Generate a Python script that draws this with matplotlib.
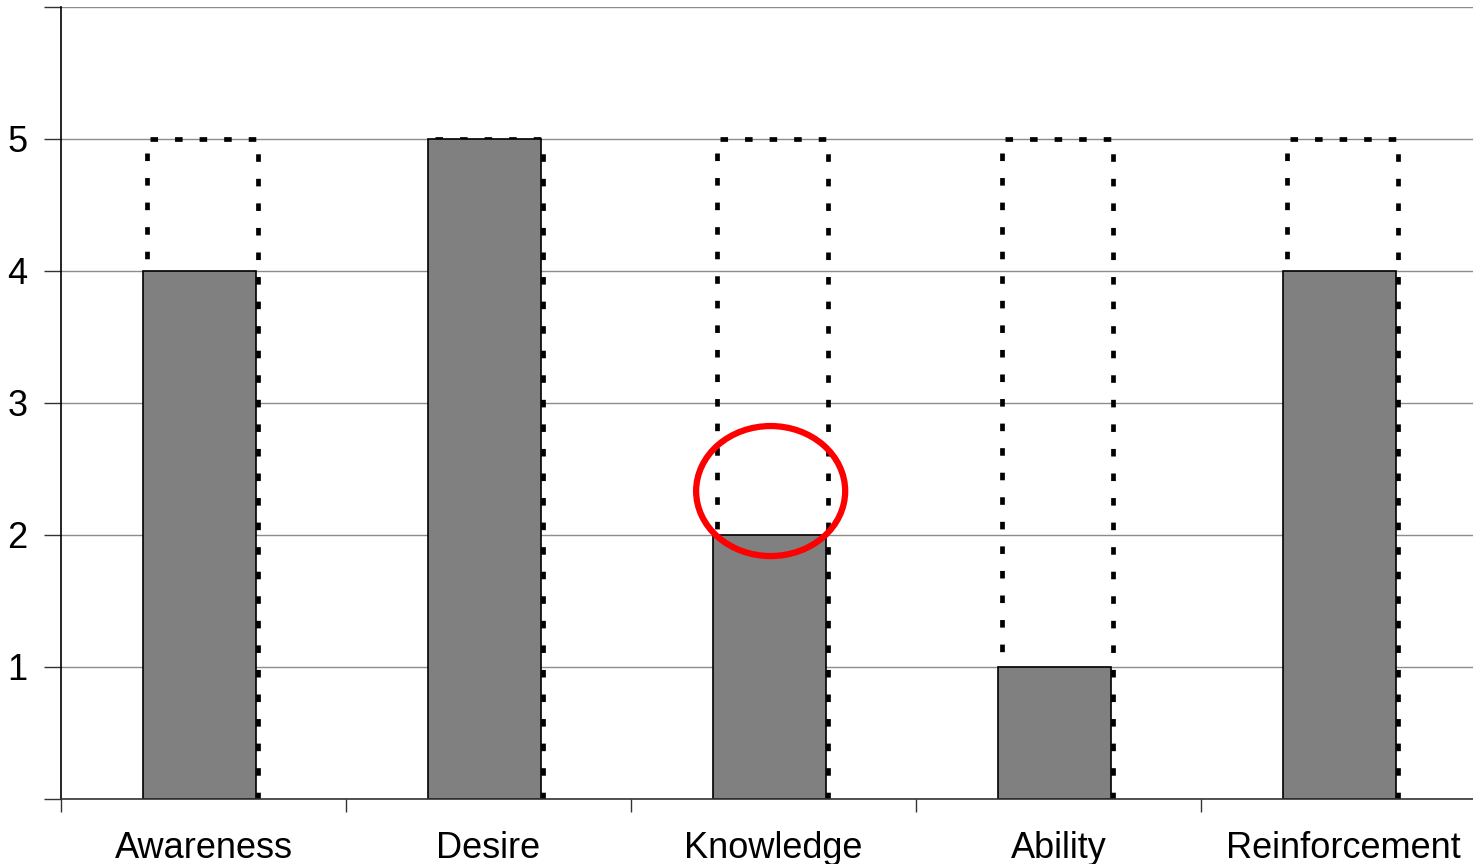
import matplotlib.pyplot as plt
import numpy as np
from matplotlib.patches import Ellipse

# Stage scores and the target level for each stage
stages = ["Awareness", "Desire", "Knowledge", "Ability", "Reinforcement"]
scores = [4, 5, 2, 1, 4]
targets = [5, 5, 5, 5, 5]
y_ticks = [0, 1, 2, 3, 4, 5, 6]
y_labels = ["", "1", "2", "3", "4", "5", ""]

plt.rcParams['font.family'] = ['Liberation Sans', 'DejaVu Sans']

fig = plt.figure(figsize=(14.73, 8.64), dpi=100)
ax = fig.add_axes([61 / 1473, 65 / 864, 1425 / 1473, 792 / 864])

x = np.arange(len(stages))

# dotted outline (three sides) showing the target, drawn behind the bars
half = 0.39 / 2
for xi, t in zip(x - 0.005, targets):
    ax.plot([xi - half, xi - half, xi + half, xi + half], [0, t, t, 0],
            color='black', linewidth=3.4, linestyle=(0, (1.6, 3.6)),
            dash_capstyle='butt', solid_joinstyle='miter', zorder=2)

# filled bars for the actual score
ax.bar(x - 0.013, scores, width=0.397, color='#808080', edgecolor='black',
       linewidth=1.2, zorder=3)

# highlight the gap in the knowledge stage
ax.add_patch(Ellipse((1.99, 2.333), 0.523, 0.985, fill=False,
                     edgecolor='#ff0000', linewidth=4.5, zorder=5))

ax.set_xlim(-0.5, len(stages) - 0.5)
ax.set_ylim(0, 6)

ax.set_yticks(y_ticks)
ax.set_yticklabels(y_labels, fontsize=26)
ax.set_xticks(x)
ax.set_xticklabels(stages, fontsize=26)
ax.set_xticks(np.arange(len(stages) + 1) - 0.5, minor=True)

ax.tick_params(axis='x', which='major', length=0, pad=23)
ax.tick_params(axis='x', which='minor', length=9, width=1, color='#333333')
ax.tick_params(axis='y', length=12, width=1, color='#333333', pad=12)

ax.grid(axis='y', color='#8c8c8c', linewidth=1.0, zorder=0)
ax.set_axisbelow(True)

for side in ['top', 'right']:
    ax.spines[side].set_visible(False)
ax.spines['left'].set_color('black')
ax.spines['bottom'].set_color('#333333')
ax.spines['left'].set_linewidth(1.2)
ax.spines['bottom'].set_linewidth(1.2)
ax.spines['bottom'].set_zorder(4)

fig.savefig('out.png', dpi=100, facecolor='white')
